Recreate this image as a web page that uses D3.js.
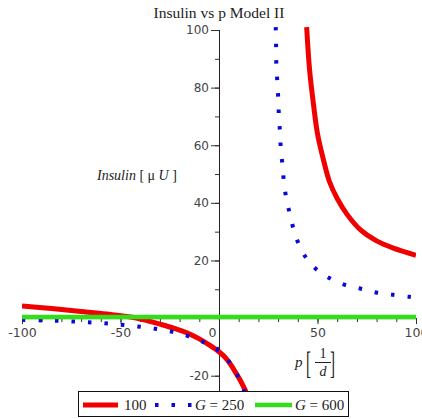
<!DOCTYPE html>
<html><head><meta charset="utf-8">
<script src="https://cdn.jsdelivr.net/npm/d3@7"></script>
<style>body{margin:0;background:#fff}</style>
</head><body><svg id="c" width="422" height="419"></svg>
<script>
const title = "Insulin vs p Model II";
const seriesNames = ["100", "250", "600"];
const xTicks = [-100, -50, 0, 50, 100];
const yTicks = [-20, 20, 40, 60, 80, 100];

// G = 100 (red), two branches
const redLeftP = [-100, -85, -70, -57, -44, -37, -30, -23, -16, -10, -5, 0, 4, 7.3, 10.7, 14, 16];
const redLeftI = [4.2, 3.3, 2.3, 1.4, 0.3, -0.8, -2.1, -3.5, -5.2, -7.2, -9.3, -11.7, -14.3, -17.6, -21.5, -26, -29];
const redRightP = [44.5, 46, 48, 50, 53, 56, 60, 65, 72, 80, 88.5, 100];
const redRightI = [101, 86, 74, 64, 55, 47.5, 41.5, 36, 30.5, 26.8, 24.3, 21.8];

// G = 250 (blue dotted)
const blueLeftP = [-100, -90, -80, -70, -60, -50, -40, -31.6, -23.5, -16, -8.3, -1, 5.2, 9.3, 12.7, 14];
const blueLeftI = [-0.6, -0.8, -1.0, -1.3, -1.7, -2.3, -3.0, -3.8, -4.8, -6.2, -8.2, -10.9, -15.2, -19.8, -25.2, -27.5];
const blueRightP = [28.8, 29, 29.1, 29.6, 30.1, 30.4, 31, 31.4, 32.3, 33, 34.4, 36.4, 38.4, 41.5, 45.7, 51.3, 57.4, 64.5, 72.4, 79.7, 88.2, 96.4, 100];
const blueRightI = [101, 94, 88.2, 82, 76, 70.2, 64.3, 58.5, 52.7, 46.8, 40.7, 35, 29.4, 24.2, 19.5, 15.9, 13.4, 11.4, 10.1, 8.9, 8.1, 7.4, 7.1];

// G = 600 (green)
const greenP = [-100, -50, 0, 50, 100];
const greenI = [0.4, 0.4, 0.4, 0.4, 0.4];

const colors = ["#f00000", "#0808d8", "#33dd1a"];

const svg = d3.select("#c");
const x = d3.scaleLinear().domain([-100, 100]).range([22, 416]);
const y = d3.scaleLinear().domain([-26, 100]).range([393, 30]);

// title
svg.append("text").attr("x", 219).attr("y", 18).attr("text-anchor", "middle")
  .attr("font-family", "Liberation Serif").attr("font-size", 15.5).attr("fill", "#222")
  .text(title);

const tickFont = "DejaVu Sans";
// x axis minor
const gxm = svg.append("g").attr("transform", `translate(0,${y(0)})`)
  .call(d3.axisBottom(x).tickValues(d3.range(-100, 101, 10)).tickSize(4).tickFormat(""));
gxm.select(".domain").remove();
const gx = svg.append("g").attr("transform", `translate(0,${y(0)})`)
  .call(d3.axisBottom(x).tickValues(xTicks).tickSize(6).tickPadding(4).tickFormat(d => d));
gx.select(".domain").attr("d", `M${x(-100)},0.5H${x(100)}`);
gx.selectAll("text").attr("font-family", tickFont).attr("font-size", 12.5).attr("fill", "#444")
  .attr("dx", d => d === 0 ? -7 : 0);
gx.selectAll("line").attr("stroke", "#333");
gxm.selectAll("line").attr("stroke", "#333");

// y axis
const gym = svg.append("g").attr("transform", `translate(${x(0)},0)`)
  .call(d3.axisLeft(y).tickValues(d3.range(-20, 101, 10)).tickSize(4).tickFormat(""));
gym.select(".domain").remove();
const gy = svg.append("g").attr("transform", `translate(${x(0)},0)`)
  .call(d3.axisLeft(y).tickValues(yTicks).tickSize(8).tickPadding(2).tickFormat(d => d));
gy.select(".domain").attr("d", `M0.5,${y(100)}V${y(-26)}`);
gy.selectAll("text").attr("font-family", tickFont).attr("font-size", 12).attr("fill", "#444");
gy.selectAll("line").attr("stroke", "#333");
gym.selectAll("line").attr("stroke", "#333");
svg.selectAll(".domain").attr("stroke", "#222");

// clip
svg.append("clipPath").attr("id", "clip").append("rect")
  .attr("x", x(-100)).attr("y", y(100) - 3).attr("width", x(100) - x(-100)).attr("height", y(-26) - y(100) + 3);
const plot = svg.append("g").attr("clip-path", "url(#clip)");

const line = d3.line().x(d => x(d[0])).y(d => y(d[1])).curve(d3.curveCatmullRom.alpha(0.5));
const zip = (a, b) => a.map((v, i) => [v, b[i]]);

[zip(redLeftP, redLeftI), zip(redRightP, redRightI)].forEach(pts => {
  plot.append("path").attr("d", line(pts)).attr("fill", "none").attr("stroke", colors[0]).attr("stroke-width", 5);
});
[zip(blueLeftP, blueLeftI), zip(blueRightP, blueRightI)].forEach(pts => {
  plot.append("path").attr("d", line(pts)).attr("fill", "none").attr("stroke", colors[1])
    .attr("stroke-width", 4).attr("stroke-dasharray", "3.5 13");
});
plot.append("path").attr("d", line(zip(greenP, greenI))).attr("fill", "none").attr("stroke", colors[2]).attr("stroke-width", 4.5);

// y label
const yl = svg.append("text").attr("x", 97).attr("y", 180).attr("font-family", "Liberation Serif")
  .attr("font-size", 14).attr("fill", "#222");
yl.append("tspan").attr("font-style", "italic").text("Insulin");
yl.append("tspan").text(" [ μ ");
yl.append("tspan").attr("font-style", "italic").text("U");
yl.append("tspan").text(" ]");

// x label
const xlab = svg.append("g").attr("font-family", "Liberation Serif").attr("fill", "#222");
xlab.append("text").attr("x", 295).attr("y", 367).attr("font-size", 15).attr("font-style", "italic").text("p");
xlab.append("text").attr("transform", "translate(306,374) scale(1,2.1)").attr("font-size", 15).text("[");
xlab.append("text").attr("transform", "translate(330,374) scale(1,2.1)").attr("font-size", 15).text("]");
xlab.append("text").attr("x", 323).attr("y", 358).attr("text-anchor", "middle").attr("font-size", 14).text("1");
xlab.append("line").attr("x1", 315).attr("x2", 331).attr("y1", 362.5).attr("y2", 362.5).attr("stroke", "#222").attr("stroke-width", 1);
xlab.append("text").attr("x", 323).attr("y", 376).attr("text-anchor", "middle").attr("font-size", 14).attr("font-style", "italic").text("d");

// legend
const lg = svg.append("g");
lg.append("rect").attr("x", 78.5).attr("y", 391.5).attr("width", 270).attr("height", 25)
  .attr("fill", "#fff").attr("stroke", "#111").attr("stroke-width", 1);
const ly = 405;
lg.append("line").attr("x1", 83).attr("x2", 118).attr("y1", ly).attr("y2", ly).attr("stroke", colors[0]).attr("stroke-width", 5);
lg.append("text").attr("x", 124).attr("y", 410).attr("font-family", "Liberation Serif").attr("font-size", 15).attr("fill", "#222").text(seriesNames[0]);
lg.append("line").attr("x1", 155).attr("x2", 192).attr("y1", ly).attr("y2", ly).attr("stroke", colors[1]).attr("stroke-width", 4).attr("stroke-dasharray", "3.5 13");
const t2 = lg.append("text").attr("x", 195).attr("y", 410).attr("font-family", "Liberation Serif").attr("font-size", 15).attr("fill", "#222");
t2.append("tspan").attr("font-style", "italic").text("G");
t2.append("tspan").text(" = " + seriesNames[1]);
lg.append("line").attr("x1", 255).attr("x2", 292).attr("y1", ly).attr("y2", ly).attr("stroke", colors[2]).attr("stroke-width", 4.5);
const t3 = lg.append("text").attr("x", 295).attr("y", 410).attr("font-family", "Liberation Serif").attr("font-size", 15).attr("fill", "#222");
t3.append("tspan").attr("font-style", "italic").text("G");
t3.append("tspan").text(" = " + seriesNames[2]);
</script>
</body></html>
